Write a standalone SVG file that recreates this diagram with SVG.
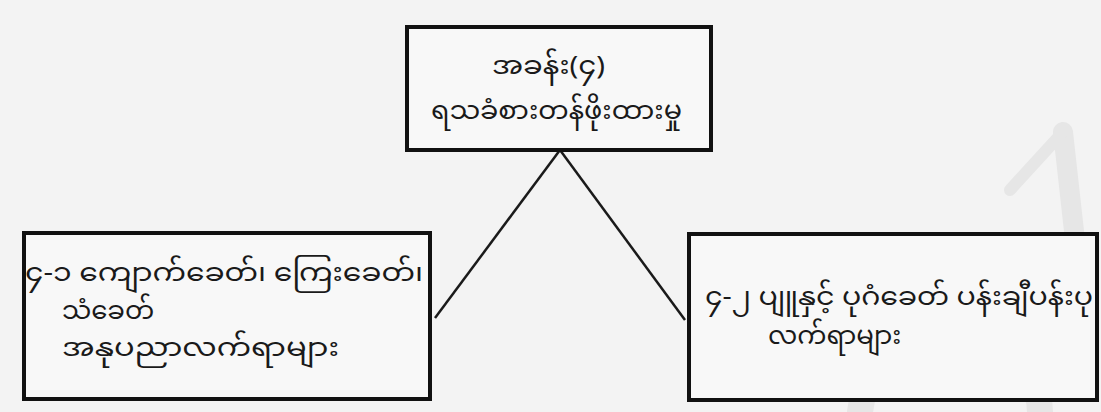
<svg xmlns="http://www.w3.org/2000/svg" width="1101" height="412" viewBox="0 0 1101 412">
<style>
.box{fill:#f8f8f8;stroke:#111;stroke-width:4}
.t{font-family:"Noto Sans Myanmar","Padauk","Myanmar Text","Noto Sans",sans-serif;font-size:26px;fill:#1a1a1a}
.c{stroke:#1a1a1a;stroke-width:2.5;fill:none}
.wm{fill:none;stroke:#e6e6e6;stroke-linecap:round}
</style>
<rect width="1101" height="412" fill="#f3f3f3"/>
<g id="watermark">
<path class="wm" stroke-width="26" d="M 860 412 C 870 330, 930 290, 990 330 C 1030 360, 1040 395, 1040 412"/>
<path class="wm" stroke-width="20" d="M 1063 132 L 1085 330"/>
<path class="wm" stroke-width="12" d="M 1063 132 L 1010 190"/>
</g>
<g id="connectors">
<line class="c" x1="560" y1="150" x2="435" y2="318"/>
<line class="c" x1="560" y1="150" x2="685" y2="320"/>
</g>
<g id="node-top">
<rect class="box" x="407" y="27" width="304" height="123"/>
<text class="t" x="492" y="74" textLength="113" lengthAdjust="spacingAndGlyphs">အခန်း(၄)</text>
<text class="t" x="431" y="119" textLength="251" lengthAdjust="spacingAndGlyphs">ရသခံစားတန်ဖိုးထားမှု</text>
</g>
<g id="node-left">
<rect class="box" x="24" y="233" width="406" height="166"/>
<text class="t" x="25" y="281" textLength="398" lengthAdjust="spacingAndGlyphs">၄-၁ ကျောက်ခေတ်၊ ကြေးခေတ်၊</text>
<text class="t" x="62" y="319">သံခေတ်</text>
<text class="t" x="62" y="356" textLength="277" lengthAdjust="spacingAndGlyphs">အနုပညာလက်ရာများ</text>
</g>
<g id="node-right">
<rect class="box" x="689" y="234" width="408" height="166"/>
<text class="t" x="705" y="305" textLength="388" lengthAdjust="spacingAndGlyphs">၄-၂ ပျူနှင့် ပုဂံခေတ် ပန်းချီပန်းပု</text>
<text class="t" x="768" y="344">လက်ရာများ</text>
</g>
</svg>
